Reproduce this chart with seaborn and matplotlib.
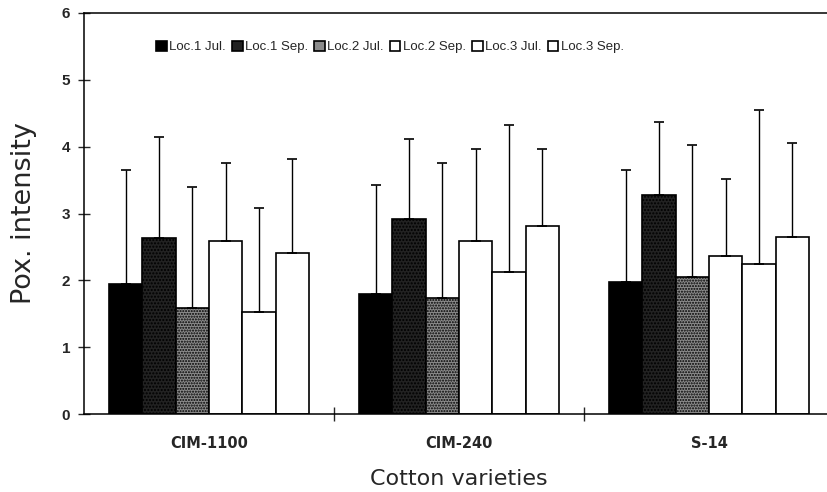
import numpy as np
import pandas as pd
import matplotlib
matplotlib.use("Agg")
import matplotlib.pyplot as plt
import seaborn as sns

varieties = ["CIM-1100", "CIM-240", "S-14"]
periods = ["Loc.1 Jul.", "Loc.1 Sep.", "Loc.2 Jul.", "Loc.2 Sep.", "Loc.3 Jul.", "Loc.3 Sep."]

# mean pox intensity per variety, one list per location/month
loc1_jul = [1.95, 1.80, 1.98]
loc1_sep = [2.64, 2.92, 3.28]
loc2_jul = [1.58, 1.74, 2.05]
loc2_sep = [2.59, 2.59, 2.37]
loc3_jul = [1.53, 2.13, 2.24]
loc3_sep = [2.41, 2.82, 2.65]

# standard deviations (upper error bars)
sd_loc1_jul = [1.70, 1.63, 1.67]
sd_loc1_sep = [1.50, 1.20, 1.09]
sd_loc2_jul = [1.82, 2.01, 1.98]
sd_loc2_sep = [1.17, 1.37, 1.14]
sd_loc3_jul = [1.55, 2.20, 2.31]
sd_loc3_sep = [1.40, 1.15, 1.40]

means = [loc1_jul, loc1_sep, loc2_jul, loc2_sep, loc3_jul, loc3_sep]
sds = [sd_loc1_jul, sd_loc1_sep, sd_loc2_jul, sd_loc2_sep, sd_loc3_jul, sd_loc3_sep]

rows = []
for p, m, s in zip(periods, means, sds):
    for v, mv, sv in zip(varieties, m, s):
        rows.append({"variety": v, "period": p, "mean": mv, "sd": sv})
df = pd.DataFrame(rows)

sns.set_theme(style="ticks")
plt.rcParams["font.family"] = ["Liberation Sans", "DejaVu Sans"]

fig = plt.figure(figsize=(8.27, 4.92), dpi=100)
ax = fig.add_axes([84 / 827, 78 / 492, 750 / 827, 401 / 492])

colors = ["#000000", "#222222", "#8c8c8c", "#ffffff", "#ffffff", "#ffffff"]
sns.barplot(data=df, x="variety", y="mean", hue="period", order=varieties,
            hue_order=periods, palette=colors, errorbar=None, width=0.8,
            edgecolor="black", linewidth=1.2, ax=ax)

# stipple texture on the two grey bars
for i, cont in enumerate(ax.containers):
    for bar in cont:
        if i == 1:
            bar.set_hatch(".....")
        elif i == 2:
            bar.set_hatch("......")

# one-sided error bars on top of every bar
for cont, p in zip(ax.containers, periods):
    sub = df[df["period"] == p].set_index("variety").loc[varieties]
    xs = [b.get_x() + b.get_width() / 2 for b in cont]
    ys = [b.get_height() for b in cont]
    ax.errorbar(xs, ys, yerr=[np.zeros(len(xs)), sub["sd"].values], fmt="none",
                ecolor="black", elinewidth=1, capsize=3.5, capthick=1.2)

ax.set_ylim(0, 6)
ax.set_xlim(-0.5, 2.5)
ax.set_yticks(range(7))
ax.tick_params(axis="y", direction="inout", length=8, width=1, pad=6, labelsize=11)
for t in ax.get_yticklabels():
    t.set_fontweight("bold")

ax.set_xticks([0, 1, 2])
ax.set_xticklabels(varieties, fontweight="bold", fontsize=10.5, family="DejaVu Sans")
ax.tick_params(axis="x", length=0, pad=16)
ax.set_xticks([0.5, 1.5, 2.5], minor=True)
ax.tick_params(axis="x", which="minor", direction="inout", length=10, width=1)

for sp in ax.spines.values():
    sp.set_linewidth(1.1)
    sp.set_color("black")

ax.set_ylabel("Pox. intensity", fontsize=19.5, labelpad=18, family="DejaVu Sans")
ax.set_xlabel("Cotton varieties", fontsize=16, labelpad=13, family="DejaVu Sans")

leg = ax.legend(loc="center", bbox_to_anchor=(0.408, 0.915), ncol=6, frameon=False,
                fontsize=9.5, handlelength=0.8, handleheight=0.8, handletextpad=0.2,
                columnspacing=0.45, borderaxespad=0)
for h in leg.legend_handles:
    h.set_linewidth(1.2)

fig.savefig("out.png", dpi=100)
